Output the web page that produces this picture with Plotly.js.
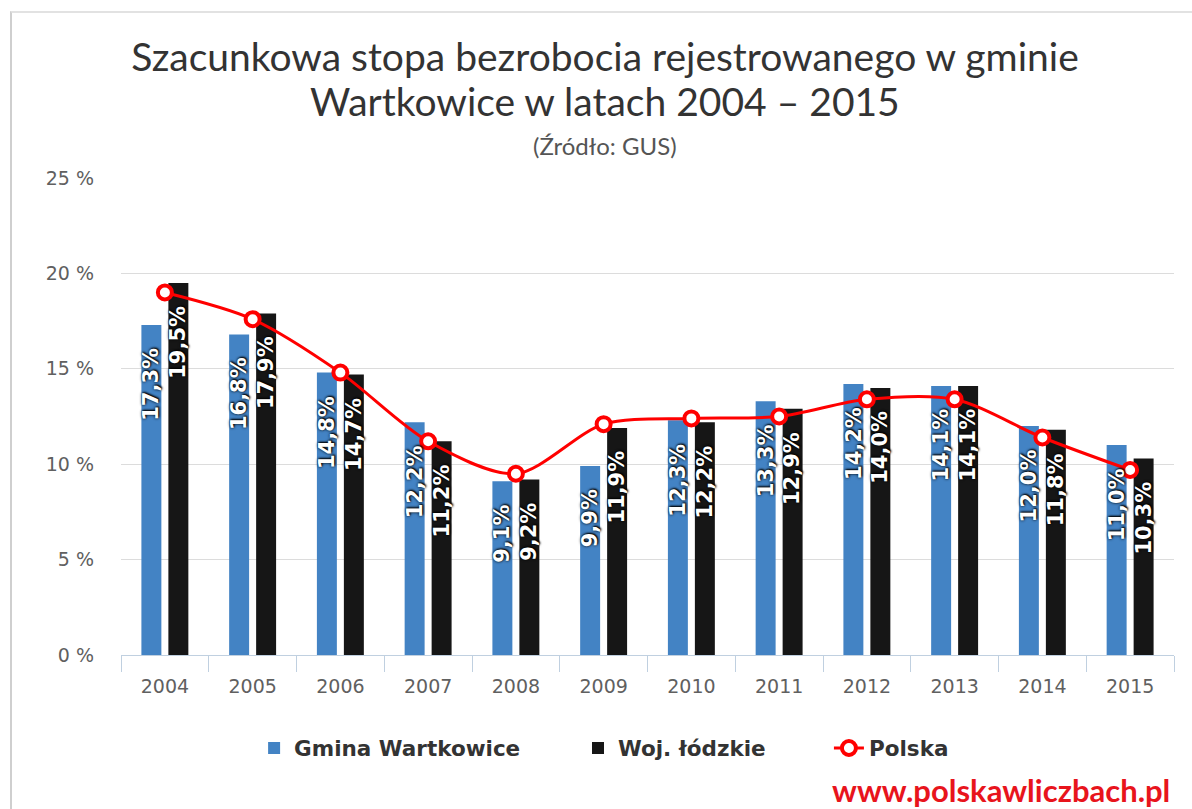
<!DOCTYPE html>
<html>
<head>
<meta charset="utf-8">
<script src="https://cdn.plot.ly/plotly-3.0.1.min.js"></script>
<style>
  html, body { margin: 0; padding: 0; background: #fff; }
  #chart { width: 1192px; height: 809px; position: relative; }
  #frame { position: absolute; left: 10px; top: 11px; width: 1182px; height: 798px;
           border-left: 2px solid #cfcfcf; border-top: 2px solid #e2e2e2; pointer-events: none; }
</style>
</head>
<body>
<div id="chart"></div>
<div id="frame"></div>
<script>
const years = ['2004','2005','2006','2007','2008','2009','2010','2011','2012','2013','2014','2015'];
const gmina = [17.3, 16.8, 14.8, 12.2, 9.1, 9.9, 12.3, 13.3, 14.2, 14.1, 12.0, 11.0];
const lodzkie = [19.5, 17.9, 14.7, 11.2, 9.2, 11.9, 12.2, 12.9, 14.0, 14.1, 11.8, 10.3];
const polska = [19.0, 17.6, 14.8, 11.2, 9.5, 12.1, 12.4, 12.5, 13.4, 13.4, 11.4, 9.7];
const yTicks = [0, 5, 10, 15, 20, 25];
const seriesNames = ['Gmina Wartkowice', 'Woj. łódzkie', 'Polska'];
const titleLine1 = 'Szacunkowa stopa bezrobocia rejestrowanego w gminie';
const titleLine2 = 'Wartkowice w latach 2004 – 2015';
const subtitle = '(Źródło: GUS)';
const watermark = 'www.polskawliczbach.pl';

const fmt = v => v.toFixed(1).replace('.', ',') + '%';
const titleFamily = 'Lato, sans-serif';

const traces = [
  {
    type: 'bar', name: seriesNames[0], x: years, y: gmina, legend: 'legend',
    marker: { color: '#4383c4', line: { width: 0 } },
    hoverinfo: 'skip'
  },
  {
    type: 'bar', name: seriesNames[1], x: years, y: lodzkie, legend: 'legend2',
    marker: { color: '#161616', line: { width: 0 } },
    hoverinfo: 'skip'
  },
  {
    type: 'scatter', mode: 'lines+markers', name: seriesNames[2], x: years, y: polska, legend: 'legend3',
    line: { color: '#ff0000', width: 3, shape: 'spline', smoothing: 0.85 },
    marker: { symbol: 'circle', size: 14, color: '#ffffff', line: { color: '#ff0000', width: 4 } },
    hoverinfo: 'skip'
  }
];

const labelFont = { family: 'DejaVu Sans', size: 21, color: '#ffffff', weight: 'bold',
                    shadow: '0px 0px 3px #000, 1px 1px 2px #000' };
const annotations = [];
years.forEach((yr, i) => {
  // category axis positions are indices
  annotations.push({ x: i, y: gmina[i], xref: 'x', yref: 'y', text: fmt(gmina[i]),
    textangle: -90, showarrow: false, xanchor: 'center', yanchor: 'top',
    xshift: -13.5, yshift: -21, font: labelFont });
  annotations.push({ x: i, y: lodzkie[i], xref: 'x', yref: 'y', text: fmt(lodzkie[i]),
    textangle: -90, showarrow: false, xanchor: 'center', yanchor: 'top',
    xshift: 13.5, yshift: -21, font: labelFont });
});
annotations.push({ text: titleLine2, xref: 'paper', yref: 'paper', x: 0.4597, y: 1.1614,
  xanchor: 'center', yanchor: 'middle', showarrow: false,
  font: { family: titleFamily, size: 39, color: '#333333' } });
annotations.push({ text: subtitle, xref: 'paper', yref: 'paper', x: 0.4597, y: 1.069,
  xanchor: 'center', yanchor: 'middle', showarrow: false,
  font: { family: titleFamily, size: 24, color: '#555555' } });
annotations.push({ text: watermark, xref: 'paper', yref: 'paper', x: 0.998, y: -0.283,
  xanchor: 'right', yanchor: 'middle', showarrow: false,
  font: { family: titleFamily, size: 31, color: '#e8141c', weight: 'bold' } });

const legendBase = {
  orientation: 'h', xanchor: 'left', y: -0.195, yanchor: 'middle',
  font: { family: 'DejaVu Sans', size: 21.5, color: '#333333', weight: 'bold' },
  bgcolor: 'rgba(0,0,0,0)', borderwidth: 0
};

const layout = {
  width: 1192, height: 809,
  paper_bgcolor: '#ffffff', plot_bgcolor: '#ffffff',
  margin: { l: 121, r: 18, t: 178, b: 154 },
  title: {
    text: titleLine1,
    font: { family: titleFamily, size: 39, color: '#333333' },
    xref: 'container', yref: 'container',
    x: 0.5075, xanchor: 'center', y: 0.9295, yanchor: 'middle'
  },
  barmode: 'group', bargap: 0.385, bargroupgap: 0.26,
  showlegend: true,
  legend: Object.assign({}, legendBase, { x: 0.1264 }),
  legend2: Object.assign({}, legendBase, { x: 0.434 }),
  legend3: Object.assign({}, legendBase, { x: 0.6723 }),
  xaxis: {
    type: 'category', range: [-0.5, 11.5], autorange: false,
    tickson: 'boundaries', ticks: 'outside', ticklen: 16, tickcolor: '#c0d0e0',
    showline: true, linecolor: '#c0d0e0', linewidth: 1, showgrid: false, tickangle: 0,
    ticklabelstandoff: 14,
    tickfont: { family: 'DejaVu Sans', size: 19, color: '#606060' }
  },
  yaxis: {
    range: [0, 25], autorange: false, tickvals: yTicks, ticktext: yTicks.map(v => v + ' %'),
    showgrid: true, gridcolor: '#dcdcdc', gridwidth: 1, zeroline: false, showline: false,
    ticks: '', ticklabelstandoff: 26,
    tickfont: { family: 'DejaVu Sans', size: 19, color: '#606060' }
  },
  annotations: annotations
};

Plotly.newPlot('chart', traces, layout, { displayModeBar: false, staticPlot: true });
</script>
</body>
</html>
